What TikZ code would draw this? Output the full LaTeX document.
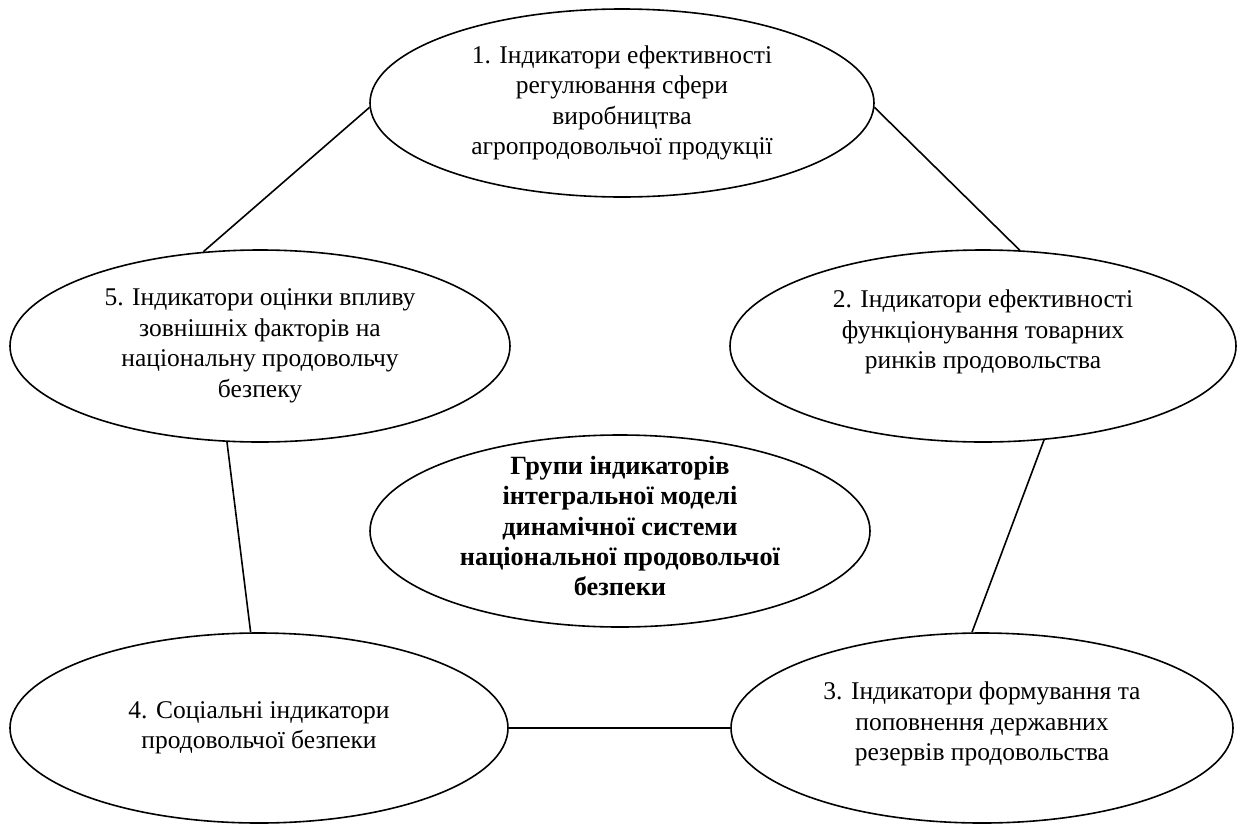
\documentclass[tikz,border=0pt]{standalone}
\usepackage{fontspec}
\setmainfont{Liberation Serif}
\usetikzlibrary{shapes.geometric}
\begin{document}
\begin{tikzpicture}[x=1pt,y=-1pt,
  ell/.style={draw=black, line width=1.6pt, ellipse, inner sep=0pt},
  txt/.style={align=center, inner sep=0pt, font=\fontsize{25.5}{30.5}\selectfont},
  btxt/.style={txt, font=\fontsize{26.3}{30.4}\selectfont\bfseries},
  link/.style={draw=black, line width=1.6pt}]
\useasboundingbox (0,0) rectangle (1241,825);
\node[ell, minimum width=504pt, minimum height=188pt] (e1) at (622,103) {};
\node[ell, minimum width=500pt, minimum height=192pt] (e5) at (260,346) {};
\node[ell, minimum width=506pt, minimum height=192pt] (e2) at (983,346) {};
\node[ell, minimum width=500pt, minimum height=192pt] (ec) at (620,531) {};
\node[ell, minimum width=498pt, minimum height=190pt] (e4) at (259,728) {};
\node[ell, minimum width=502pt, minimum height=190pt] (e3) at (982,728) {};

\node[txt] (t1) at (e1.center) {1. Індикатори ефективності\\регулювання сфери\\виробництва\\агропродовольчої продукції};
\node[txt] (t5) at (e5.center) {5. Індикатори оцінки впливу\\зовнішніх факторів на\\національну продовольчу\\безпеку};
\node[txt] (t2) at ([yshift=14pt]e2.center) {2. Індикатори ефективності\\функціонування товарних\\ринків продовольства};
\node[btxt] (tc) at ([yshift=5pt]ec.center) {Групи індикаторів\\інтегральної моделі\\динамічної системи\\національної продовольчої\\безпеки};
\node[txt] (t4) at (e4.center) {4. Соціальні індикатори\\продовольчої безпеки};
\node[txt] (t3) at ([yshift=4pt]e3.center) {3. Індикатори формування та\\поповнення державних\\резервів продовольства};

\draw[link] (e1.181) -- (e5.121);
\draw[link] (e1.-1) -- (e2.69);
\draw[link] (e5.251) -- (e4.95);
\draw[link] (e2.-57) -- (e3.96);
\draw[link] (e4.east) -- (e3.west);
\end{tikzpicture}
\end{document}
